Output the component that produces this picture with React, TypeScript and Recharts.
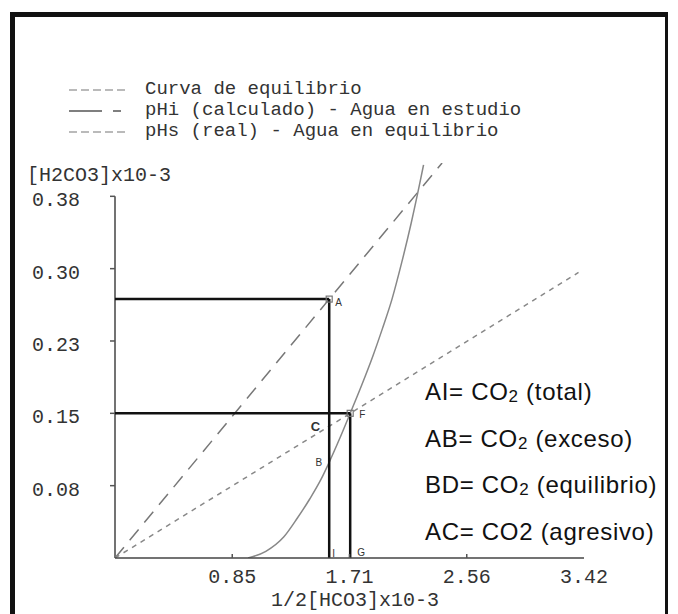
import React from 'react';
import { LineChart, Line, XAxis, YAxis, ReferenceLine, ReferenceDot, Legend } from 'recharts';

// ejes
const xTicks = [0.855, 1.71, 2.565, 3.42];
const xTickLabels = ['0.85', '1.71', '2.56', '3.42'];
const yTicks = [0.076, 0.152, 0.228, 0.304, 0.38];
const yTickLabels = ['0.08', '0.15', '0.23', '0.30', '0.38'];

// curva de equilibrio
const eqX = [0.97, 1.1, 1.23, 1.33, 1.42, 1.5, 1.56, 1.64, 1.715, 1.8, 1.88, 1.95, 2.02, 2.09, 2.16, 2.22, 2.25];
const eqY = [0, 0.007, 0.022, 0.042, 0.062, 0.082, 0.1, 0.126, 0.152, 0.182, 0.212, 0.241, 0.272, 0.31, 0.352, 0.392, 0.413];

// pHi (calculado) - agua en estudio
const phiX = [0, 1.562, 2.385];
const phiY = [0, 0.272, 0.415];

// pHs (real) - agua en equilibrio
const phsX = [0, 1.715, 3.38];
const phsY = [0, 0.152, 0.3];

// puntos marcados
const pointNames = ['A', 'F', 'C', 'B', 'I', 'G'];
const pointX = [1.562, 1.715, 1.562, 1.562, 1.562, 1.715];
const pointY = [0.272, 0.152, 0.138, 0.101, 0, 0];

const legendTexts = ['Curva de equilibrio', 'pHi (calculado) - Agua en estudio', 'pHs (real) - Agua en equilibrio'];
const notes = [
  { pre: 'AI= CO', sub: '2', post: ' (total)' },
  { pre: 'AB= CO', sub: '2', post: ' (exceso)' },
  { pre: 'BD= CO', sub: '2', post: ' (equilibrio)' },
  { pre: 'AC= CO2', sub: '', post: ' (agresivo)' },
];

const toPoints = (xs: number[], ys: number[]) => xs.map((x, i) => ({ x, y: ys[i] }));
const eqData = toPoints(eqX, eqY);
const phiData = toPoints(phiX, phiY);
const phsData = toPoints(phsX, phsY);

const mono = '"Liberation Mono", "DejaVu Sans Mono", monospace';
const sans = '"Liberation Sans", Arial, sans-serif';
const monoText = { fontFamily: mono, fontSize: 20, fill: '#333' };

// como se dibuja cada punto: desplazamiento de la letra, cuadrado o no
const pointStyle: Record<string, { dx: number; dy: number; anchor: string; square?: boolean; size?: number; weight?: number }> = {
  A: { dx: 6, dy: 7, anchor: 'start', square: true },
  F: { dx: 9, dy: 5, anchor: 'start', square: true },
  C: { dx: -9, dy: 4, anchor: 'end', size: 13, weight: 700 },
  B: { dx: -7, dy: 4, anchor: 'end' },
  I: { dx: 3, dy: -1, anchor: 'start' },
  G: { dx: 7, dy: -2, anchor: 'start' },
};

const XTick = (props: any) => {
  const { x, y, payload } = props;
  const i = xTicks.indexOf(payload.value);
  return (
    <g>
      {i < xTicks.length - 1 && <line x1={x} x2={x} y1={y - 10} y2={y - 14} stroke="#555" strokeWidth={1.5} />}
      <text x={x} y={y + 15} textAnchor="middle" style={monoText}>{xTickLabels[i]}</text>
    </g>
  );
};

const YTick = (props: any) => {
  const { x, y, payload } = props;
  const i = yTicks.indexOf(payload.value);
  return <text x={x} y={y + 10} textAnchor="end" style={monoText}>{yTickLabels[i]}</text>;
};

const LegendBox = () => (
  <div style={{ fontFamily: mono, fontSize: 19, color: '#333' }}>
    {legendTexts.map((t, i) => (
      <div key={t} style={{ display: 'flex', alignItems: 'center', height: 21, lineHeight: '21px', whiteSpace: 'pre' }}>
        <svg width={76} height={21}>
          {i === 1 ? (
            <g stroke="#555" strokeWidth={1.5}>
              <line x1={0} x2={33} y1={11} y2={11} />
              <line x1={44} x2={52} y1={11} y2={11} />
            </g>
          ) : (
            <line x1={0} x2={58} y1={11} y2={11} stroke="#777" strokeWidth={1.2} strokeDasharray="8 4" />
          )}
        </svg>
        <span>{t}</span>
      </div>
    ))}
  </div>
);

const PointMark = (name: string) => (props: any) => {
  const { cx, cy } = props;
  const s = pointStyle[name];
  return (
    <g>
      {s.square && <rect x={cx - 3} y={cy - 3} width={6} height={6} fill="none" stroke="#777" strokeWidth={1.2} />}
      <text x={cx + s.dx} y={cy + s.dy} textAnchor={s.anchor} fontFamily={sans} fontSize={s.size || 10} fontWeight={s.weight || 400} fill="#333">
        {name}
      </text>
    </g>
  );
};

export default function App() {
  return (
    <div style={{ position: 'relative', width: 678, height: 614, background: '#fff', overflow: 'hidden' }}>
      <style>{'body{margin:0}'}</style>
      <div
        style={{
          position: 'absolute', left: 10, top: 12, width: 658, height: 640, boxSizing: 'border-box',
          borderTop: '5px solid #111', borderLeft: '5px solid #111', borderRight: '3px solid #111',
        }}
      />
      <LineChart width={678} height={614} margin={{ top: 163, right: 94, bottom: 0, left: 0 }}>
        <XAxis
          type="number"
          dataKey="x"
          domain={[0, 3.42]}
          ticks={xTicks}
          tick={<XTick />}
          tickLine={false}
          tickSize={0}
          tickMargin={10}
          height={56}
          stroke="#444"
          strokeWidth={1.5}
          allowDataOverflow
          label={{
            content: (p: any) => (
              <text x={p.viewBox.x + 240} y={p.viewBox.y + 48} textAnchor="middle" style={monoText}>
                1/2[HCO3]x10-3
              </text>
            ),
          }}
        />
        <YAxis
          type="number"
          dataKey="y"
          domain={[0, 0.415]}
          ticks={yTicks}
          tick={<YTick />}
          tickSize={5}
          tickMargin={30}
          tickLine={{ stroke: '#555', strokeWidth: 1.5 }}
          axisLine={false}
          width={115}
          allowDataOverflow
          label={{
            content: (p: any) => (
              <text x={27} y={p.viewBox.y + 18} style={monoText}>
                [H2CO3]x10-3
              </text>
            ),
          }}
        />
        <Legend
          content={<LegendBox />}
          layout="horizontal"
          verticalAlign="middle"
          align="center"
          wrapperStyle={{ top: 79, left: 69, width: 560, height: 63 }}
        />
        <ReferenceLine segment={[{ x: 0, y: 0 }, { x: 0, y: 0.38 }]} stroke="#444" strokeWidth={1.5} />
        <Line data={phiData} dataKey="y" type="linear" stroke="#777" strokeWidth={1.5} strokeDasharray="14 9" dot={false} isAnimationActive={false} />
        <Line data={phsData} dataKey="y" type="linear" stroke="#888" strokeWidth={1.5} strokeDasharray="5 5" dot={false} isAnimationActive={false} />
        <Line data={eqData} dataKey="y" type="monotone" stroke="#888" strokeWidth={1.5} dot={false} isAnimationActive={false} />
        <ReferenceLine segment={[{ x: 0, y: pointY[0] }, { x: pointX[0], y: pointY[0] }]} stroke="#111" strokeWidth={2.5} />
        <ReferenceLine segment={[{ x: pointX[0], y: pointY[0] }, { x: pointX[0], y: 0 }]} stroke="#111" strokeWidth={2.5} />
        <ReferenceLine segment={[{ x: 0, y: pointY[1] }, { x: pointX[1], y: pointY[1] }]} stroke="#111" strokeWidth={2.5} />
        <ReferenceLine segment={[{ x: pointX[1], y: pointY[1] }, { x: pointX[1], y: 0 }]} stroke="#111" strokeWidth={2.5} />
        {pointNames.map((n, i) => (
          <ReferenceDot key={n} x={pointX[i]} y={pointY[i]} r={3} shape={PointMark(n)} ifOverflow="visible" />
        ))}
      </LineChart>
      {notes.map((n, i) => (
        <div
          key={n.pre}
          style={{
            position: 'absolute', left: 425, top: 380 + i * 46.5, fontFamily: sans, fontSize: 24,
            letterSpacing: 0.7, lineHeight: '24px', color: '#111', whiteSpace: 'pre',
          }}
        >
          {n.pre}
          {n.sub && <span style={{ fontSize: 17, position: 'relative', top: 2 }}>{n.sub}</span>}
          {n.post}
        </div>
      ))}
    </div>
  );
}
